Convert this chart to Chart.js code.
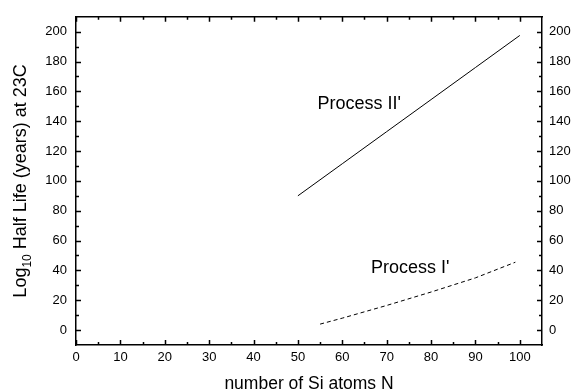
<!DOCTYPE html>
<html>
<head>
<meta charset="utf-8">
<script src="https://cdn.jsdelivr.net/npm/chart.js@4"></script>
<style>
  html, body { margin: 0; padding: 0; background: #fff; }
  canvas { display: block; }
</style>
</head>
<body>
<canvas id="chart" width="573" height="392"></canvas>
<script>
// data
const nProcessII = [50, 60, 70, 80, 90, 100];
const lifeProcessII = [90, 111.5, 133, 154.5, 176, 197.5];
const nProcessI = [55, 60, 70, 80, 90, 99];
const lifeProcessI = [4, 8, 16.5, 25.5, 35, 45.5];

const xTicks = [0, 10, 20, 30, 40, 50, 60, 70, 80, 90, 100];
const xMinor = [5, 15, 25, 35, 45, 55, 65, 75, 85, 95];
const yTicks = [0, 20, 40, 60, 80, 100, 120, 140, 160, 180, 200];
const yMinor = [10, 30, 50, 70, 90, 110, 130, 150, 170, 190];

const FONT = "'Liberation Sans', Arial, sans-serif";
Chart.defaults.font.family = FONT;
Chart.defaults.color = '#000';

const toPoints = (xs, ys) => xs.map((x, i) => ({ x: x, y: ys[i] }));
const setTicks = vals => scale => { scale.ticks = vals.map(v => ({ value: v })); };

// inward tick marks on all four sides
const tickMarks = {
  id: 'tickMarks',
  afterDraw(chart) {
    const { ctx, chartArea: a, scales } = chart;
    ctx.save();
    ctx.strokeStyle = '#000';
    ctx.lineWidth = 1.5;
    ctx.beginPath();
    const vx = (vals, len) => vals.forEach(v => {
      const px = Math.round(scales.x.getPixelForValue(v)) + 0.5;
      ctx.moveTo(px, a.bottom); ctx.lineTo(px, a.bottom - len);
      ctx.moveTo(px, a.top); ctx.lineTo(px, a.top + len);
    });
    const vy = (vals, len) => vals.forEach(v => {
      const py = Math.round(scales.y.getPixelForValue(v)) + 0.5;
      ctx.moveTo(a.left, py); ctx.lineTo(a.left + len, py);
      ctx.moveTo(a.right, py); ctx.lineTo(a.right - len, py);
    });
    vx(xTicks, 5); vx(xMinor, 3);
    vy(yTicks, 5); vy(yMinor, 3);
    ctx.stroke();

    // curve labels
    ctx.fillStyle = '#000';
    ctx.font = '18px ' + FONT;
    ctx.textAlign = 'center';
    ctx.textBaseline = 'middle';
    ctx.fillText("Process II'", scales.x.getPixelForValue(63.8), scales.y.getPixelForValue(151.5));
    ctx.fillText("Process I'", scales.x.getPixelForValue(75.3), scales.y.getPixelForValue(41.5));

    // y title with subscript
    const parts = [['Log', 18, 0], ['10', 12, 5], [' Half Life (years) at 23C', 18, 0]];
    let total = 0;
    parts.forEach(p => { ctx.font = p[1] + 'px ' + FONT; total += ctx.measureText(p[0]).width; });
    ctx.translate(26, (a.top + a.bottom) / 2);
    ctx.rotate(-Math.PI / 2);
    ctx.textAlign = 'left';
    ctx.textBaseline = 'alphabetic';
    let x = -total / 2;
    parts.forEach(p => {
      ctx.font = p[1] + 'px ' + FONT;
      ctx.fillText(p[0], x, p[2]);
      x += ctx.measureText(p[0]).width;
    });
    ctx.restore();
  }
};

const border = { display: true, color: '#000', width: 1.5 };
const noGrid = { display: true, drawOnChartArea: false, drawTicks: false };

new Chart(document.getElementById('chart'), {
  type: 'line',
  data: {
    datasets: [
      {
        label: "Process II'",
        data: toPoints(nProcessII, lifeProcessII),
        borderColor: '#000',
        borderWidth: 1,
        pointRadius: 0,
        tension: 0
      },
      {
        label: "Process I'",
        data: toPoints(nProcessI, lifeProcessI),
        borderColor: '#000',
        borderWidth: 1,
        borderDash: [4, 3],
        pointRadius: 0,
        tension: 0
      }
    ]
  },
  options: {
    responsive: false,
    animation: false,
    layout: { padding: 0 },
    plugins: { legend: { display: false }, tooltip: { enabled: false } },
    scales: {
      x: {
        type: 'linear', position: 'bottom', min: 0, max: 105,
        afterBuildTicks: setTicks(xTicks),
        afterFit: s => { s.height = 47; },
        grid: noGrid, border: border,
        ticks: { font: { size: 13 }, padding: 5, maxRotation: 0 },
        title: {
          display: true, text: 'number of Si atoms N',
          font: { size: 17.5, lineHeight: 1 }, padding: { top: 0, bottom: -1 }
        }
      },
      x2: {
        type: 'linear', position: 'top', min: 0, max: 105,
        afterFit: s => { s.height = 12; },
        grid: noGrid, border: border,
        ticks: { display: false }
      },
      y: {
        type: 'linear', position: 'left', min: -10, max: 210,
        afterBuildTicks: setTicks(yTicks),
        afterFit: s => { s.width = 76; },
        grid: noGrid, border: border,
        ticks: { font: { size: 13 }, padding: 9 }
      },
      y2: {
        type: 'linear', position: 'right', min: -10, max: 210,
        afterBuildTicks: setTicks(yTicks),
        afterFit: s => { s.width = 31; },
        grid: noGrid, border: border,
        ticks: { font: { size: 13 }, padding: 7 }
      }
    }
  },
  plugins: [tickMarks]
});
</script>
</body>
</html>
